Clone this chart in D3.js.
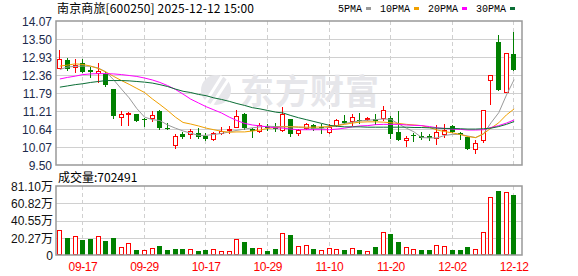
<!DOCTYPE html>
<html>
<head>
<meta charset="utf-8">
<script src="https://cdn.jsdelivr.net/npm/d3@7"></script>
<style>
  body { margin: 0; background: #fff; }
  svg { display: block; }
</style>
</head>
<body>
<div id="chart"></div>
<script>
// trading days shown
var dates = [
  "2025-09-12", "2025-09-15", "2025-09-16", "2025-09-17", "2025-09-18", "2025-09-19",
  "2025-09-22", "2025-09-23", "2025-09-24", "2025-09-25", "2025-09-26", "2025-09-29", "2025-09-30",
  "2025-10-09", "2025-10-10", "2025-10-13", "2025-10-14", "2025-10-15", "2025-10-16", "2025-10-17",
  "2025-10-20", "2025-10-21", "2025-10-22", "2025-10-23", "2025-10-24", "2025-10-27", "2025-10-28",
  "2025-10-29", "2025-10-30", "2025-10-31", "2025-11-03", "2025-11-04", "2025-11-05", "2025-11-06",
  "2025-11-07", "2025-11-10", "2025-11-11", "2025-11-12", "2025-11-13", "2025-11-14", "2025-11-17",
  "2025-11-18", "2025-11-19", "2025-11-20", "2025-11-21", "2025-11-24", "2025-11-25", "2025-11-26",
  "2025-11-27", "2025-11-28", "2025-12-01", "2025-12-02", "2025-12-03", "2025-12-04", "2025-12-05",
  "2025-12-08", "2025-12-09", "2025-12-10", "2025-12-11", "2025-12-12"
];

var open = [12.59, 12.84, 12.61, 12.74, 12.52, 12.41, 12.39, 11.90, 11.01, 11.13, 11.12, 10.96, 11.00, 11.20, 10.68,
  10.12, 10.47, 10.47, 10.51, 10.43, 10.32, 10.51, 10.61, 10.72, 11.12, 10.64, 10.57, 10.75, 10.74, 10.60,
  10.95, 10.50, 10.66, 10.77, 10.72, 10.56, 10.78, 10.90, 10.91, 10.94, 10.95, 10.96, 10.99, 10.98, 10.54,
  10.29, 10.44, 10.42, 10.43, 10.35, 10.47, 10.74, 10.51, 10.38, 10.00, 10.30, 12.19, 13.41, 11.83, 13.02];
var high = [13.15, 12.88, 12.86, 12.85, 12.62, 12.73, 12.45, 11.91, 11.20, 11.18, 11.13, 10.99, 11.20, 11.25, 10.82,
  10.48, 10.54, 10.64, 10.66, 10.51, 10.55, 10.70, 10.74, 11.25, 11.14, 10.68, 10.82, 10.80, 10.82, 11.35,
  10.96, 10.64, 10.83, 10.81, 10.79, 10.79, 10.97, 11.09, 11.11, 11.15, 11.03, 11.13, 11.38, 11.07, 11.21,
  10.42, 10.51, 10.56, 10.49, 10.77, 10.79, 10.77, 10.56, 10.40, 10.28, 11.25, 12.35, 13.63, 13.06, 13.71];
var low = [12.58, 12.52, 12.46, 12.45, 12.30, 12.12, 12.02, 11.00, 10.77, 10.77, 10.90, 10.74, 10.89, 10.63, 10.65,
  10.05, 10.35, 10.37, 10.35, 10.29, 10.29, 10.48, 10.53, 10.70, 10.63, 10.40, 10.55, 10.61, 10.58, 10.59,
  10.43, 10.45, 10.64, 10.60, 10.53, 10.51, 10.75, 10.82, 10.77, 10.82, 10.93, 10.80, 10.94, 10.36, 10.28,
  10.11, 10.26, 10.33, 10.28, 10.18, 10.40, 10.55, 10.33, 10.00, 9.88, 10.24, 11.43, 11.89, 11.83, 12.52];
var close = [12.86, 12.54, 12.67, 12.46, 12.45, 12.48, 12.04, 11.06, 11.11, 11.16, 10.91, 10.94, 11.09, 10.69, 10.66,
  10.42, 10.40, 10.57, 10.40, 10.33, 10.51, 10.59, 10.65, 11.06, 10.66, 10.57, 10.78, 10.69, 10.63, 11.12,
  10.48, 10.60, 10.79, 10.63, 10.68, 10.72, 10.93, 10.82, 11.02, 10.91, 11.00, 10.91, 11.25, 10.49, 10.29,
  10.35, 10.41, 10.36, 10.35, 10.56, 10.60, 10.56, 10.45, 10.01, 10.20, 11.23, 12.35, 11.89, 13.06, 12.52];
var volume = [293800, 199800, 223300, 176300, 188000, 223300, 164600, 199800, 90100, 141000, 58800, 54800, 78400,
  105800, 58800, 70500, 70500, 66600, 47000, 58800, 66600, 43100, 47000, 184100, 152800, 82300, 78400, 47000,
  70500, 254700, 235100, 101900, 113600, 70500, 54800, 78400, 66600, 58800, 78400, 58800, 43100, 94000, 266400,
  246800, 152800, 90100, 66600, 58800, 58800, 113600, 101900, 58800, 58800, 94000, 66600, 266400, 677800,
  752200, 736600, 702491];

// moving averages as they appear on the chart
var ma5 = [12.53, 12.61, 12.63, 12.64, 12.63, 12.58, 12.45, 12.20, 11.91, 11.63, 11.29, 11.02, 10.94, 10.91, 10.77,
  10.67, 10.58, 10.51, 10.44, 10.44, 10.47, 10.50, 10.55, 10.60, 10.64, 10.68, 10.71, 10.73, 10.72, 10.72,
  10.72, 10.69, 10.68, 10.66, 10.66, 10.70, 10.75, 10.82, 10.86, 10.90, 10.92, 10.94, 10.96, 10.95, 10.80,
  10.67, 10.55, 10.37, 10.36, 10.36, 10.44, 10.47, 10.47, 10.42, 10.37, 10.48, 10.84, 11.16, 11.72, 12.21];
var ma10 = [12.64, 12.67, 12.71, 12.69, 12.64, 12.56, 12.45, 12.31, 12.18, 12.06, 11.93, 11.80, 11.60, 11.42, 11.23,
  11.02, 10.85, 10.80, 10.74, 10.67, 10.62, 10.57, 10.54, 10.55, 10.55, 10.58, 10.61, 10.66, 10.69, 10.71,
  10.71, 10.71, 10.70, 10.70, 10.71, 10.72, 10.75, 10.79, 10.83, 10.86, 10.87, 10.87, 10.86, 10.84, 10.82,
  10.79, 10.77, 10.75, 10.69, 10.61, 10.56, 10.52, 10.47, 10.40, 10.37, 10.49, 10.67, 10.84, 11.09, 11.28];
var ma20 = [12.23, 12.28, 12.32, 12.37, 12.39, 12.40, 12.40, 12.39, 12.37, 12.34, 12.31, 12.26, 12.20, 12.12, 12.02,
  11.90, 11.75, 11.59, 11.47, 11.35, 11.25, 11.15, 11.02, 10.91, 10.82, 10.77, 10.74, 10.71, 10.68, 10.67,
  10.64, 10.62, 10.62, 10.62, 10.62, 10.62, 10.64, 10.67, 10.71, 10.74, 10.75, 10.78, 10.79, 10.79, 10.79,
  10.77, 10.76, 10.75, 10.72, 10.68, 10.66, 10.64, 10.63, 10.61, 10.61, 10.62, 10.69, 10.75, 10.83, 10.93];
var ma30 = [11.97, 12.01, 12.05, 12.08, 12.12, 12.15, 12.18, 12.18, 12.18, 12.17, 12.15, 12.13, 12.10, 12.05, 11.99,
  11.91, 11.84, 11.80, 11.74, 11.70, 11.63, 11.58, 11.52, 11.45, 11.39, 11.32, 11.28, 11.23, 11.18, 11.15,
  11.07, 11.00, 10.94, 10.88, 10.82, 10.76, 10.73, 10.71, 10.71, 10.71, 10.70, 10.70, 10.70, 10.70, 10.70,
  10.70, 10.69, 10.69, 10.68, 10.67, 10.66, 10.66, 10.65, 10.64, 10.64, 10.65, 10.67, 10.72, 10.79, 10.88];

var priceTicks = [9.50, 10.07, 10.64, 11.21, 11.79, 12.36, 12.93, 13.50, 14.07];
var volTicks = [0, 202750, 405500, 608250, 811000];
var volLabels = ["0", "20.27万", "40.55万", "60.82万", "81.10万"];
var xTickDates = ["2025-09-17", "2025-09-29", "2025-10-17", "2025-10-29", "2025-11-10", "2025-11-20", "2025-12-02", "2025-12-12"];

var maNames = ["5PMA", "10PMA", "20PMA", "30PMA"];
var maColors = ["#9a9a9a", "#f0a000", "#ff00ff", "#0b6e36"];
var maSeries = [ma5, ma10, ma20, ma30];

var red = "#ff0000", green = "#008000";
var W = 578, H = 276;
var plotL = 56, plotR = 522;
var pTop = 21, pBot = 165, vTop = 186, vBot = 255;

var svg = d3.select("#chart").append("svg")
  .attr("width", W)
  .attr("height", H);

var x = d3.scaleBand()
  .domain(dates)
  .range([plotL, 518])
  .paddingInner(0.3)
  .paddingOuter(0.15);
var y = d3.scaleLinear().domain([9.50, 14.07]).range([pBot, pTop]);
var yv = d3.scaleLinear().domain([0, 811000]).range([vBot, vTop]);

function colX(d) { return Math.round(x(d)); }

// horizontal grid
var grid = svg.append("g").attr("stroke", "#d0d0d0").attr("stroke-width", 1);
priceTicks.slice(1, -1).forEach(function (t) {
  var yy = Math.round(y(t)) + 0.5;
  grid.append("line").attr("x1", plotL).attr("x2", plotR).attr("y1", yy).attr("y2", yy);
});
volTicks.slice(1, -1).forEach(function (t) {
  var yy = Math.round(yv(t)) + 0.5;
  grid.append("line").attr("x1", plotL).attr("x2", plotR).attr("y1", yy).attr("y2", yy);
});
// vertical dashed grid
xTickDates.forEach(function (d) {
  var xx = colX(d) + 2.5;
  grid.append("line").attr("x1", xx).attr("x2", xx).attr("y1", pTop).attr("y2", pBot)
    .attr("stroke-dasharray", "4,3");
  grid.append("line").attr("x1", xx).attr("x2", xx).attr("y1", vTop).attr("y2", vBot)
    .attr("stroke-dasharray", "4,3");
});

// watermark
var wm = svg.append("g").attr("fill", "#e6e6ea");
wm.append("ellipse").attr("cx", 216).attr("cy", 90).attr("rx", 15).attr("ry", 15);
wm.append("path").attr("d", "M205,103 L222,76 M211,106 L228,80")
  .attr("stroke", "#fff").attr("stroke-width", 3);
wm.append("text")
  .attr("x", 240).attr("y", 104)
  .attr("font-family", "Noto Sans CJK SC")
  .attr("font-size", 34)
  .attr("font-weight", "bold")
  .attr("letter-spacing", 1)
  .text("东方财富");

// candles
var idx = dates.map(function (d, i) { return i; });
var cg = svg.append("g");
idx.forEach(function (i) {
  var d = dates[i];
  var left = colX(d);
  var cx = left + 2.5;
  var up = close[i] >= open[i];
  var col = up ? red : green;
  var yTop = Math.round(y(Math.max(open[i], close[i])));
  var yBot = Math.round(y(Math.min(open[i], close[i])));
  cg.append("line")
    .attr("x1", cx).attr("x2", cx)
    .attr("y1", Math.round(y(high[i]))).attr("y2", Math.round(y(low[i])) + 1)
    .attr("stroke", col).attr("stroke-width", 1);
  if (up) {
    cg.append("rect")
      .attr("x", left + 0.5).attr("y", yTop + 0.5)
      .attr("width", 4).attr("height", Math.max(yBot - yTop, 0))
      .attr("fill", "#fff").attr("stroke", col).attr("stroke-width", 1);
  } else {
    cg.append("rect")
      .attr("x", left).attr("y", yTop)
      .attr("width", 5).attr("height", Math.max(yBot - yTop, 1))
      .attr("fill", col);
  }
});

// volume bars (colour by change against previous close)
var vg = svg.append("g");
idx.forEach(function (i) {
  var left = colX(dates[i]);
  var up = i === 0 ? close[i] >= open[i] : close[i] >= close[i - 1];
  var top = Math.round(yv(volume[i]));
  if (up) {
    vg.append("rect")
      .attr("x", left + 0.5).attr("y", top + 0.5)
      .attr("width", 4).attr("height", vBot - top - 1)
      .attr("fill", "#fff").attr("stroke", red).attr("stroke-width", 1);
  } else {
    vg.append("rect")
      .attr("x", left).attr("y", top)
      .attr("width", 5).attr("height", vBot - top)
      .attr("fill", green);
  }
});

// moving average lines
maSeries.forEach(function (s, k) {
  svg.append("path")
    .datum(s)
    .attr("fill", "none")
    .attr("stroke", maColors[k])
    .attr("stroke-width", 1)
    .attr("d", d3.line()
      .x(function (v, i) { return x(dates[i]) + x.bandwidth() / 2; })
      .y(function (v) { return y(v); }));
});

// frames
svg.append("rect").attr("x", plotL).attr("y", pTop).attr("width", plotR - plotL).attr("height", pBot - pTop)
  .attr("fill", "none").attr("stroke", "#999").attr("stroke-width", 1.5);
svg.append("rect").attr("x", plotL).attr("y", vTop).attr("width", plotR - plotL).attr("height", vBot - vTop)
  .attr("fill", "none").attr("stroke", "#999").attr("stroke-width", 1.5);

// axes
var yAxis = svg.append("g")
  .attr("transform", "translate(" + plotL + ",0)")
  .call(d3.axisLeft(y).tickValues(priceTicks).tickFormat(d3.format(".2f")).tickSize(0).tickPadding(4));
yAxis.select(".domain").remove();
yAxis.selectAll("text")
  .attr("font-family", "Liberation Sans, Arial")
  .attr("font-size", 12)
  .attr("fill", "#1c2a4c")
  .attr("dy", "0.36em");

var vAxis = svg.append("g")
  .attr("transform", "translate(" + plotL + ",0)")
  .call(d3.axisLeft(yv).tickValues(volTicks).tickFormat(function (d, i) { return volLabels[i]; }).tickSize(0).tickPadding(3));
vAxis.select(".domain").remove();
vAxis.selectAll("text")
  .attr("font-family", "Liberation Sans, Noto Sans CJK SC")
  .attr("font-size", 12)
  .attr("fill", "#111")
  .attr("dy", "0.36em");

var xAxis = svg.append("g")
  .attr("transform", "translate(0," + vBot + ")")
  .call(d3.axisBottom(x).tickValues(xTickDates).tickFormat(function (d) { return d.slice(5); }).tickSize(0).tickPadding(7));
xAxis.select(".domain").remove();
xAxis.selectAll("text")
  .attr("font-family", "Liberation Sans, Arial")
  .attr("font-size", 12)
  .attr("letter-spacing", -0.4)
  .attr("fill", red);

// title
svg.append("text")
  .attr("x", 57).attr("y", 13)
  .attr("font-family", "Noto Sans CJK SC")
  .attr("font-size", 12)
  .attr("textLength", 197)
  .attr("lengthAdjust", "spacing")
  .attr("fill", "#000")
  .text("南京商旅[600250] 2025-12-12 15:00");

// legend
var lx = 338;
maNames.forEach(function (n, k) {
  svg.append("text")
    .attr("x", lx).attr("y", 12)
    .attr("font-family", "Liberation Mono")
    .attr("font-size", 10)
    .attr("fill", "#000")
    .text(n);
  var sx = lx + n.length * 6 + 4;
  svg.append("rect").attr("x", sx).attr("y", 7).attr("width", 5).attr("height", 3).attr("fill", maColors[k]);
  lx = sx + 14;
});

// volume caption
svg.append("text")
  .attr("x", 58).attr("y", 182)
  .attr("font-family", "Noto Sans CJK SC")
  .attr("font-size", 12)
  .attr("fill", "#000")
  .text("成交量:" + volume[volume.length - 1]);
</script>
</body>
</html>
